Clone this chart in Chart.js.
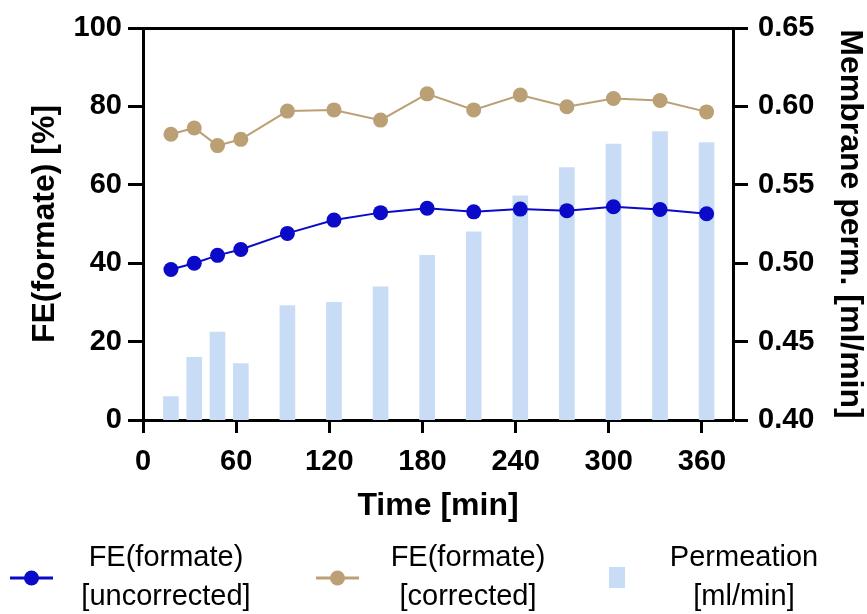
<!DOCTYPE html>
<html>
<head>
<meta charset="utf-8">
<script src="https://cdn.jsdelivr.net/npm/chart.js@4.4.1/dist/chart.umd.min.js"></script>
<style>
  html, body { margin: 0; padding: 0; background: #fff; }
  #wrap { width: 867px; height: 614px; }
</style>
</head>
<body>
<div id="wrap"><canvas id="chart" width="867" height="614"></canvas></div>
<script>
// sampling times [min]
const times = [18, 33, 48, 63, 93, 123, 153, 183, 213, 243, 273, 303, 333, 363];
// faradaic efficiency [%]
const feUncorrected = [38.4, 40.0, 42.0, 43.5, 47.6, 51.0, 52.9, 54.0, 53.1, 53.8, 53.4, 54.4, 53.7, 52.6];
const feCorrected = [72.9, 74.5, 70.0, 71.6, 78.8, 79.1, 76.5, 83.2, 79.1, 82.9, 79.9, 82.0, 81.5, 78.6];
// membrane permeation [ml/min]
const permeation = [0.415, 0.440, 0.456, 0.436, 0.473, 0.475, 0.485, 0.505, 0.520, 0.543, 0.561, 0.576, 0.584, 0.577];

const xTicks = [0, 60, 120, 180, 240, 300, 360];
const legendLabels = [
  ["FE(formate)", "[uncorrected]"],
  ["FE(formate)", "[corrected]"],
  ["Permeation", "[ml/min]"],
];

const BLUE = "rgb(10, 10, 200)";
const TAN = "rgb(187, 160, 118)";
const BAR = "rgb(201, 220, 246)";
const FONT = "'Liberation Sans', Arial, sans-serif";

const toPoints = (ys) => times.map((t, i) => ({ x: t, y: ys[i] }));

// legend with two-line labels, drawn under the x axis
const bottomLegend = {
  id: "bottomLegend",
  afterDraw(chart) {
    const ctx = chart.ctx;
    const items = [
      { ds: chart.data.datasets[0], sx: 10, tx: 166 },
      { ds: chart.data.datasets[1], sx: 316, tx: 468 },
      { ds: chart.data.datasets[2], sx: 609, tx: 744 },
    ];
    ctx.save();
    items.forEach((it, i) => {
      const ds = it.ds;
      if (ds.type === "bar") {
        ctx.fillStyle = ds.backgroundColor;
        ctx.fillRect(it.sx, 567, 16, 21);
      } else {
        ctx.strokeStyle = ds.borderColor;
        ctx.lineWidth = 3;
        ctx.beginPath();
        ctx.moveTo(it.sx, 578);
        ctx.lineTo(it.sx + 43, 578);
        ctx.stroke();
        ctx.fillStyle = ds.pointBackgroundColor;
        ctx.beginPath();
        ctx.arc(it.sx + 21.5, 578, 7.5, 0, Math.PI * 2);
        ctx.fill();
      }
      ctx.fillStyle = "#000";
      ctx.font = "29px " + FONT;
      ctx.textAlign = "center";
      ctx.textBaseline = "middle";
      ctx.fillText(legendLabels[i][0], it.tx, 558);
      ctx.fillText(legendLabels[i][1], it.tx, 597);
    });
    ctx.restore();
  },
};

const axisBorder = { color: "#000", width: 3 };
const tickGrid = (len) => ({
  drawOnChartArea: false,
  drawTicks: true,
  offset: false,
  tickLength: len,
  tickColor: "#000",
  tickWidth: 3,
  color: "#000",
});
const tickFont = { family: FONT, size: 29, weight: "bold" };
const titleFont = { family: FONT, size: 32, weight: "bold", lineHeight: 1 };

new Chart(document.getElementById("chart"), {
  data: {
    datasets: [
      {
        type: "line",
        label: "FE(formate) [uncorrected]",
        data: toPoints(feUncorrected),
        yAxisID: "y",
        borderColor: BLUE,
        borderWidth: 2,
        pointBackgroundColor: BLUE,
        pointBorderColor: BLUE,
        pointRadius: 7.5,
        pointBorderWidth: 0,
        order: 1,
      },
      {
        type: "line",
        label: "FE(formate) [corrected]",
        data: toPoints(feCorrected),
        yAxisID: "y",
        borderColor: TAN,
        borderWidth: 2,
        pointBackgroundColor: TAN,
        pointBorderColor: TAN,
        pointRadius: 7.5,
        pointBorderWidth: 0,
        order: 2,
      },
      {
        type: "bar",
        label: "Permeation [ml/min]",
        data: toPoints(permeation),
        yAxisID: "y1",
        backgroundColor: BAR,
        barThickness: 15,
        order: 3,
      },
    ],
  },
  options: {
    responsive: false,
    animation: false,
    layout: { padding: { left: 0, right: 0, top: 0, bottom: 89 } },
    plugins: {
      legend: { display: false },
      tooltip: { enabled: false },
    },
    scales: {
      x: {
        type: "linear",
        position: "bottom",
        offset: false,
        min: 0,
        max: 380,
        border: axisBorder,
        grid: tickGrid(13),
        afterBuildTicks: (scale) => {
          scale.ticks = xTicks.map((v) => ({ value: v }));
        },
        afterFit: (scale) => { scale.height = 105; },
        ticks: { color: "#000", font: tickFont, padding: 12, maxRotation: 0 },
        title: {
          display: true,
          text: "Time [min]",
          color: "#000",
          font: titleFont,
          padding: { top: 0, bottom: 3 },
        },
      },
      xTop: {
        type: "linear",
        position: "top",
        offset: false,
        min: 0,
        max: 380,
        border: axisBorder,
        grid: { display: false, offset: false },
        ticks: { display: false },
        afterFit: (scale) => { scale.height = 28; },
      },
      y: {
        type: "linear",
        position: "left",
        min: 0,
        max: 100,
        border: axisBorder,
        grid: tickGrid(15),
        afterFit: (scale) => { scale.width = 143; },
        ticks: { color: "#000", font: tickFont, stepSize: 20, padding: 6 },
        title: {
          display: true,
          text: "FE(formate) [%]",
          color: "#000",
          font: titleFont,
          padding: { top: 29, bottom: 0 },
        },
      },
      y1: {
        type: "linear",
        position: "right",
        min: 0.4,
        max: 0.65,
        border: axisBorder,
        grid: tickGrid(15),
        afterFit: (scale) => { scale.width = 134; },
        ticks: {
          color: "#000",
          font: tickFont,
          stepSize: 0.05,
          padding: 10,
          callback: (v) => v.toFixed(2),
        },
        title: {
          display: true,
          text: "Membrane perm. [ml/min]",
          color: "#000",
          font: titleFont,
          padding: { top: 1, bottom: 0 },
        },
      },
    },
  },
  plugins: [bottomLegend],
});
</script>
</body>
</html>
